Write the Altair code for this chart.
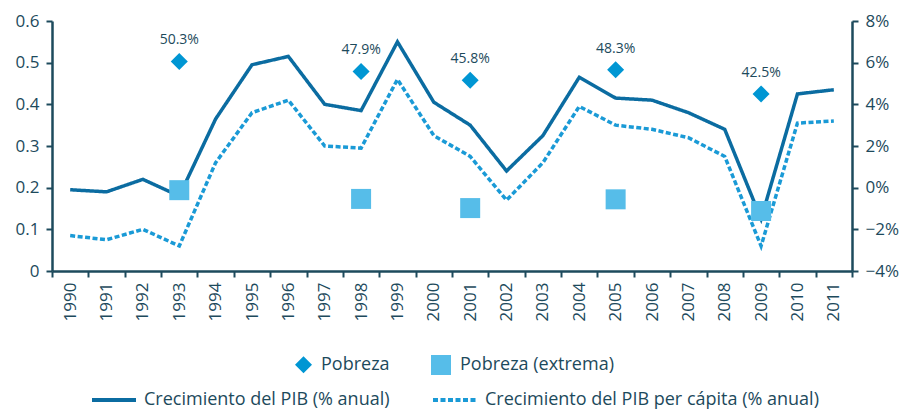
import altair as alt
import pandas as pd

years = [str(y) for y in range(1990, 2012)]
gdp = [-0.1, -0.2, 0.4, -0.4, 3.3, 5.9, 6.3, 4.0, 3.7, 7.0, 4.1, 3.0, 0.8, 2.5,
       5.3, 4.3, 4.2, 3.6, 2.8, -1.5, 4.5, 4.7]
gdp_pc = [-2.3, -2.5, -2.0, -2.8, 1.2, 3.6, 4.2, 2.0, 1.9, 5.2, 2.5, 1.5, -0.6, 1.2,
          3.9, 3.0, 2.8, 2.4, 1.5, -2.8, 3.1, 3.2]
pov_years = ["1993", "1998", "2001", "2005", "2009"]
pobreza = [0.503, 0.479, 0.458, 0.483, 0.425]
extrema = [0.194, 0.173, 0.151, 0.172, 0.144]
pob_labels = ["50.3%", "47.9%", "45.8%", "48.3%", "42.5%"]

S1 = "Crecimiento del PIB (% anual)"
S2 = "Crecimiento del PIB per cápita (% anual)"
P1 = "Pobreza"
P2 = "Pobreza (extrema)"

lines_df = pd.DataFrame({"year": years * 2, "value": gdp + gdp_pc,
                         "serie": [S1] * len(years) + [S2] * len(years)})
pts_df = pd.DataFrame({"year": pov_years * 2, "value": pobreza + extrema,
                       "tipo": [P1] * len(pov_years) + [P2] * len(pov_years)})
lab_df = pd.DataFrame({"year": pov_years, "value": pobreza, "label": pob_labels})

DARK = "#1d4a5c"
FONT = "Open Sans"

x_axis = alt.Axis(title=None, labelAngle=-90, tickBand="extent", labelPadding=5,
                  labelAlign="right", labelBaseline="middle")
x_enc = alt.X("year:N", sort=years,
              scale=alt.Scale(type="band", domain=years, paddingInner=0, paddingOuter=0),
              axis=x_axis)

line_legend = alt.Legend(title=None, orient="none", direction="horizontal",
                         legendX=38, legendY=355, symbolType="stroke",
                         symbolStrokeWidth=4, symbolSize=1936, columnPadding=35,
                         labelOffset=6)
lines = alt.Chart(lines_df).mark_line(strokeWidth=3.5).encode(
    x=x_enc,
    y=alt.Y("value:Q", scale=alt.Scale(domain=[-4, 8], nice=False, zero=False),
            axis=alt.Axis(orient="right", title=None, values=[-4, -2, 0, 2, 4, 6, 8],
                          labelExpr="format(datum.value, 'd') + '%'", labelPadding=7)),
    color=alt.Color("serie:N", scale=alt.Scale(domain=[S1, S2], range=["#0b6ca1", "#1a9ad6"]),
                    legend=line_legend),
    strokeDash=alt.StrokeDash("serie:N", scale=alt.Scale(domain=[S1, S2], range=[[1, 0], [5, 2.5]]),
                              legend=line_legend),
)

pt_legend = alt.Legend(title=None, orient="none", direction="horizontal",
                       legendX=242, legendY=333, symbolSize=230, columnPadding=40,
                       labelOffset=8)
y_left = alt.Y("value:Q", scale=alt.Scale(domain=[0, 0.6], nice=False),
               axis=alt.Axis(orient="left", title=None, values=[0, 0.1, 0.2, 0.3, 0.4, 0.5, 0.6],
                             format=".1~f", labelPadding=7))
points = alt.Chart(pts_df).mark_point(filled=True, opacity=1).encode(
    x=x_enc,
    y=y_left,
    color=alt.Color("tipo:N", scale=alt.Scale(domain=[P1, P2], range=["#0096d3", "#56bde9"]),
                    legend=pt_legend),
    shape=alt.Shape("tipo:N", scale=alt.Scale(domain=[P1, P2], range=["diamond", "square"]),
                    legend=pt_legend),
    size=alt.Size("tipo:N", scale=alt.Scale(domain=[P1, P2], range=[290, 400]),
                  legend=None),
)
labels = alt.Chart(lab_df).mark_text(dy=-21, fontSize=14, font=FONT, color=DARK).encode(
    x=x_enc, y=y_left, text="label:N")

pts_layer = alt.layer(points, labels)

chart = alt.layer(lines, pts_layer).resolve_scale(
    y="independent", color="independent", strokeDash="independent",
    shape="independent", size="independent"
).properties(
    width=800, height=250,
    autosize=alt.AutoSizeParams(type="none"),
    padding={"left": 44, "top": 13, "right": 48, "bottom": 140},
).configure_axis(
    domainColor=DARK, domainWidth=2.5, tickColor=DARK, tickWidth=2, tickSize=6,
    labelColor=DARK, labelFont=FONT, labelFontSize=17, grid=False,
).configure_legend(
    labelFont=FONT, labelFontSize=18, labelColor=DARK, labelLimit=400,
).configure_view(stroke=None)

chart.save("out.html", embed_options={"renderer": "svg", "actions": False})
